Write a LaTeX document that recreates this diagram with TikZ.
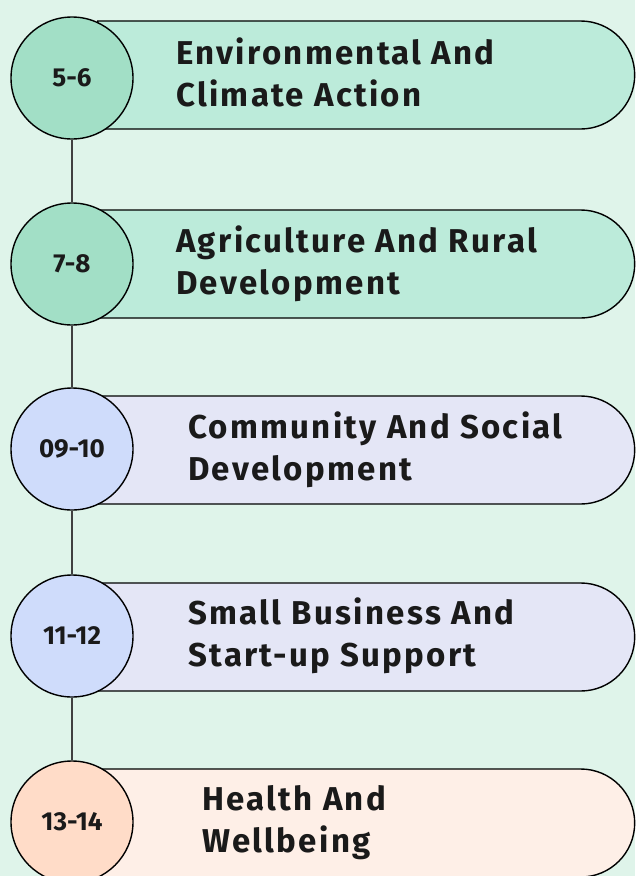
\documentclass[tikz,border=0pt]{standalone}
\usepackage{fontspec}
\setmainfont{Fira Sans}
\newfontfamily\headfont[LetterSpace=7]{Fira Sans}
\newfontfamily\numfont{Fira Sans}
\usetikzlibrary{shapes.misc}
\definecolor{bgc}{HTML}{DFF4EA}
\definecolor{gpill}{HTML}{BCEBDA}
\definecolor{gcirc}{HTML}{A2DFC6}
\definecolor{bpill}{HTML}{E4E6F6}
\definecolor{bcirc}{HTML}{CFDCFB}
\definecolor{ppill}{HTML}{FEEFE7}
\definecolor{pcirc}{HTML}{FFDCC8}
\definecolor{ink}{HTML}{1A1A1A}
\tikzset{
  pill/.style={draw=black, line width=1.4pt, rounded rectangle, rounded rectangle left arc=none,
    minimum width=537, minimum height=108, anchor=west, inner sep=0pt},
  disc/.style={draw=black, line width=1.4pt, circle, minimum size=122, inner sep=0pt,
    font=\numfont\bfseries\fontsize{26}{30}\selectfont, text=ink},
  label/.style={anchor=west, align=left, inner sep=0pt, text=ink,
    font=\headfont\bfseries\fontsize{33}{42}\selectfont},
  link/.style={draw=black!75, line width=1.2pt}
}
\begin{document}
\begin{tikzpicture}[x=1pt,y=-1pt]
\fill[bgc] (0,0) rectangle (635,876);
\useasboundingbox (0,0) rectangle (635,876);
% row 1
\node[pill, fill=gpill] (p1) at (97,75) {};
\node[disc, fill=gcirc] (c1) at (72,78) {5-6};
\node[label] (t1) at (176,72) {Environmental And\\Climate Action};
% row 2
\node[pill, fill=gpill] (p2) at (97,264) {};
\node[disc, fill=gcirc] (c2) at (72,264) {7-8};
\node[label] (t2) at (176,264) {Agriculture And Rural\\Development};
% row 3
\node[pill, fill=bpill] (p3) at (97,450) {};
\node[disc, fill=bcirc] (c3) at (72,449) {09-10};
\node[label] (t3) at (188,450) {Community And Social\\Development};
% row 4
\node[pill, fill=bpill] (p4) at (97,637) {};
\node[disc, fill=bcirc] (c4) at (72,636) {11-12};
\node[label] (t4) at (188,636) {Small Business And\\Start-up Support};
% row 5
\node[pill, fill=ppill] (p5) at (97,823) {};
\node[disc, fill=pcirc] (c5) at (72,822) {13-14};
\node[label] (t5) at (202,823) {Health And\\Wellbeing};
% connectors
\draw[link] (c1.south) -- (c2.north);
\draw[link] (c2.south) -- (c3.north);
\draw[link] (c3.south) -- (c4.north);
\draw[link] (c4.south) -- (c5.north);
\end{tikzpicture}
\end{document}
